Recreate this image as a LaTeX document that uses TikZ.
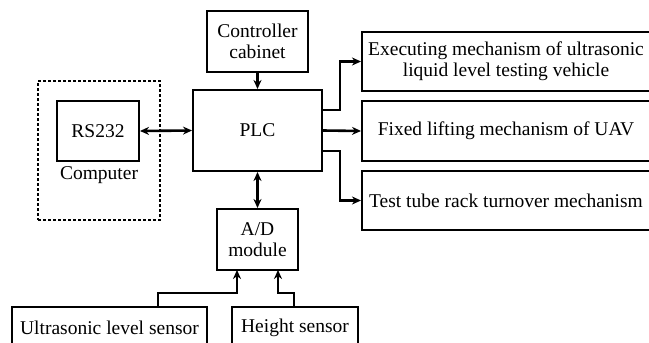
\documentclass[tikz,border=0pt]{standalone}
\usepackage{fontspec}
\setmainfont{Liberation Serif}
\usetikzlibrary{arrows.meta}
\begin{document}
\begin{tikzpicture}[x=1pt,y=-1pt,
  box/.style={draw,line width=2pt,inner sep=0pt,font=\fontsize{19.5}{21}\selectfont,align=center},
  conn/.style={line width=2.6pt,-{Stealth[length=9pt,width=8pt]}},
  biconn/.style={line width=2.6pt,{Stealth[length=9pt,width=8pt]}-{Stealth[length=9pt,width=8pt]}}]
\useasboundingbox (0,0) rectangle (649,343);
\clip (0,0) rectangle (649,343);
\node[box,minimum width=101pt,minimum height=61pt] (cab) at (257.5,41.5) {Controller\\cabinet};
\node[box,minimum width=129pt,minimum height=81pt] (plc) at (257.5,130.5) {PLC};
\node[draw,dashed,line width=1.2pt,dash pattern=on 3pt off 2pt,minimum width=122pt,minimum height=139pt,inner sep=0pt] (comp) at (99,150.5) {};
\node[box,minimum width=82pt,minimum height=60pt] (rs) at (98,131) {RS232};
\node[font=\fontsize{19.5}{21}\selectfont] (complbl) at (99,175) {Computer};
\node[box,minimum width=300pt,minimum height=59pt,anchor=west] (ex) at (361,61.5) {\hspace*{-12pt}Executing mechanism of ultrasonic\\\hspace*{-12pt}liquid level testing vehicle};
\node[box,minimum width=300pt,minimum height=60pt,anchor=west] (fix) at (361,131) {\hspace*{-12pt}Fixed lifting mechanism of UAV};
\node[box,minimum width=300pt,minimum height=59pt,anchor=west] (tt) at (361,200.5) {\hspace*{-12pt}Test tube rack turnover mechanism};
\node[box,minimum width=81pt,minimum height=61pt] (ad) at (257.5,239.5) {A/D\\module};
\node[box,minimum width=195pt,minimum height=42pt,anchor=north] (us) at (109.5,306) {Ultrasonic level sensor};
\node[box,minimum width=126pt,minimum height=42pt,anchor=north] (hs) at (295,306) {Height sensor};
\draw[conn] (cab) -- (plc);
\draw[biconn] (rs.east) -- (plc.west);
\draw[biconn] (plc) -- (ad);
\draw[conn] (plc.east |- 0,110) -- (340,110) -- (340,61.5) -- (ex.west);
\draw[conn] (plc.east) -- (fix.west);
\draw[conn] (plc.east |- 0,151) -- (340,151) -- (340,200.5) -- (tt.west);
\draw[conn] (158,306) -- (158,293) -- (237,293) -- (237,270);
\draw[conn] (294,306) -- (294,293) -- (278,293) -- (278,270);
\end{tikzpicture}
\end{document}
